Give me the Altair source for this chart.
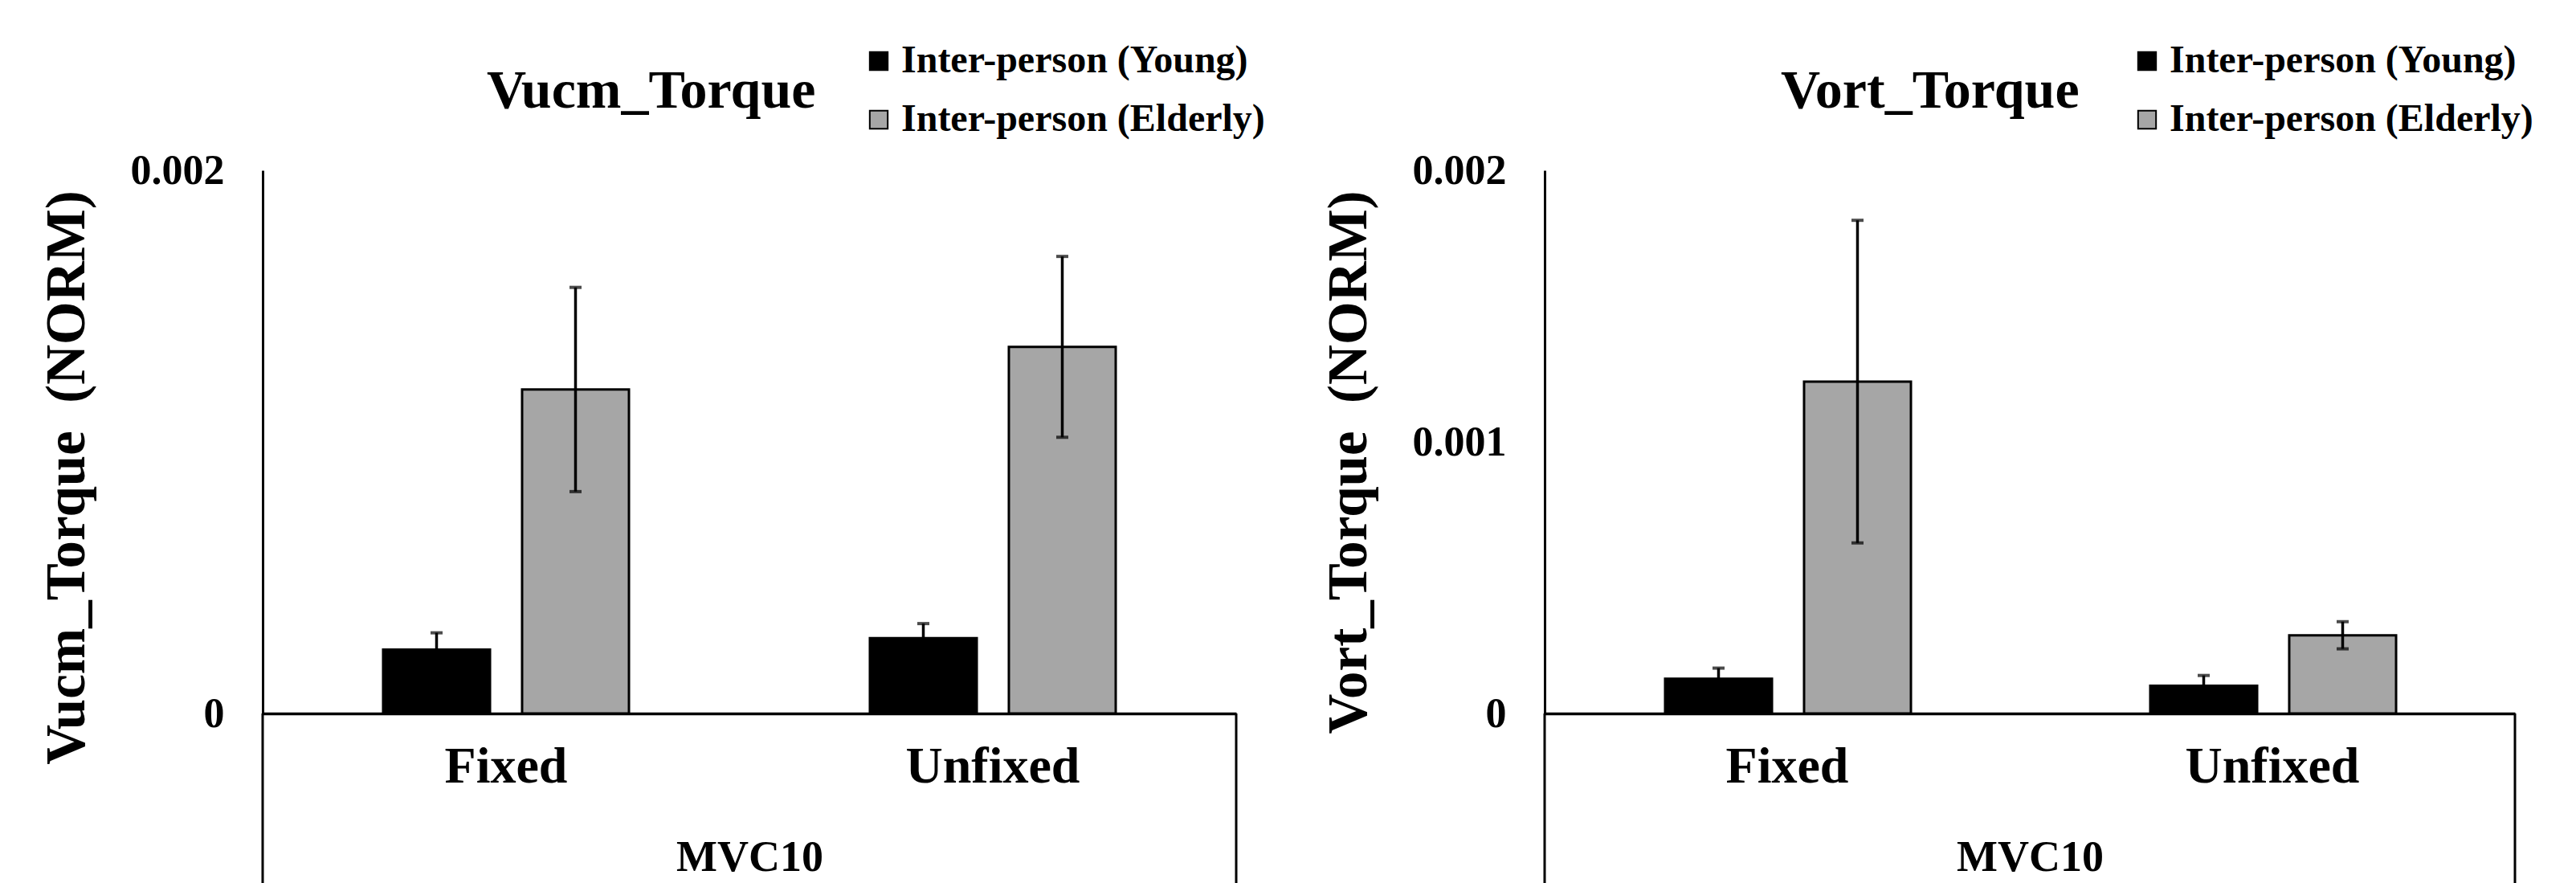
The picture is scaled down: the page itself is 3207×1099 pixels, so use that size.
import altair as alt
import pandas as pd

conditions = ["Fixed", "Unfixed"]
groups = ["Inter-person (Young)", "Inter-person (Elderly)"]

vucm_young = [0.000235, 0.000277]
vucm_young_err = [0.000062, 0.000054]
vucm_elderly = [0.001193, 0.001350]
vucm_elderly_err = [0.000376, 0.000333]

vort_young = [0.000128, 0.000102]
vort_young_err = [0.000039, 0.000038]
vort_elderly = [0.001222, 0.000288]
vort_elderly_err = [0.000594, 0.000050]

FONT = "Liberation Serif"
H = 676


def make_df(young, young_err, elderly, elderly_err):
    rows = []
    for i, c in enumerate(conditions):
        for g, v, e in ((groups[0], young[i], young_err[i]), (groups[1], elderly[i], elderly_err[i])):
            rows.append({"cond": c, "grp": g, "val": v, "lo": v - e, "hi": v + e})
    return pd.DataFrame(rows)


def panel(df, title, ytitle, yvalues, W, title_dx, ytitle_y, legend_x):
    x = alt.X("cond:N", sort=conditions,
              scale=alt.Scale(paddingInner=0, paddingOuter=0),
              axis=alt.Axis(title="MVC10", labelAngle=0, ticks=False, tickSize=0,
                            domainColor="black", domainWidth=3.5, labelLimit=0,
                            labelFont=FONT, labelFontWeight="bold", labelFontSize=64,
                            labelColor="black", labelPadding=34,
                            titleFont=FONT, titleFontWeight="bold", titleFontSize=54,
                            titleColor="black", titlePadding=54))
    xo = alt.XOffset("grp:N", sort=groups,
                     scale=alt.Scale(paddingInner=0.231, paddingOuter=0.867))
    y = alt.Y("val:Q", scale=alt.Scale(domain=[0, 0.002], nice=False),
              axis=alt.Axis(title=ytitle, values=yvalues, format=".3~f", grid=False,
                            ticks=False, tickSize=0, domainColor="black", domainWidth=3,
                            labelFont=FONT, labelFontWeight="bold", labelFontSize=52,
                            labelColor="black", labelPadding=48, labelBaseline="middle",
                            titleFont=FONT, titleFontWeight="bold", titleFontSize=69,
                            titleColor="black", titleX=-244, titleY=ytitle_y,
                            titleAlign="center", titleBaseline="middle", titleAngle=-90))
    color = alt.Color("grp:N", sort=groups,
                      scale=alt.Scale(domain=groups, range=["#000000", "#A6A6A6"]),
                      legend=alt.Legend(title=None, orient="none", legendX=legend_x, legendY=-160,
                                        symbolType="square", symbolSize=500,
                                        symbolStrokeColor="black", symbolStrokeWidth=2,
                                        labelFont=FONT, labelFontWeight="bold",
                                        labelFontSize=48, labelColor="black",
                                        labelOffset=4, rowPadding=25, labelLimit=0))
    base = alt.Chart(df)
    bars = base.mark_bar(stroke="black", strokeWidth=3).encode(x=x, xOffset=xo, y=y, color=color)
    err = base.mark_rule(color="black", strokeWidth=3.5).encode(
        x=x, xOffset=xo, y="lo:Q", y2="hi:Q")
    cap_lo = base.mark_tick(color="black", size=15, thickness=4).encode(x=x, xOffset=xo, y="lo:Q")
    cap_hi = base.mark_tick(color="black", size=15, thickness=4).encode(x=x, xOffset=xo, y="hi:Q")
    box_l = alt.Chart(pd.DataFrame({"k": [0]})).mark_rule(color="black", strokeWidth=3).encode(
        x=alt.value(0), y=alt.value(H), y2=alt.value(H + 300))
    box_r = alt.Chart(pd.DataFrame({"k": [0]})).mark_rule(color="black", strokeWidth=3).encode(
        x=alt.value(W), y=alt.value(H), y2=alt.value(H + 300))
    return alt.layer(bars, err, cap_lo, cap_hi, box_l, box_r).properties(
        width=W, height=H,
        title=alt.TitleParams(title, font=FONT, fontWeight="bold", fontSize=68, color="black",
                              anchor="start", frame="group", dx=title_dx, dy=100))


left = panel(make_df(vucm_young, vucm_young_err, vucm_elderly, vucm_elderly_err),
             "Vucm_Torque", "Vucm_Torque\u00a0\u00a0(NORM)", [0, 0.002], 1212, 279, 382, 743)
right = panel(make_df(vort_young, vort_young_err, vort_elderly, vort_elderly_err),
              "Vort_Torque", "Vort_Torque\u00a0\u00a0(NORM)", [0, 0.001, 0.002], 1208, 294, 363, 726)

chart = alt.hconcat(left, right, spacing=69).resolve_scale(color="independent").resolve_legend(
    color="independent").properties(
    padding={"left": 40, "top": 44, "right": 5, "bottom": 5}).configure(
    background="white").configure_view(stroke=None)

chart.save("out.html", embed_options={"renderer": "svg", "actions": False})
